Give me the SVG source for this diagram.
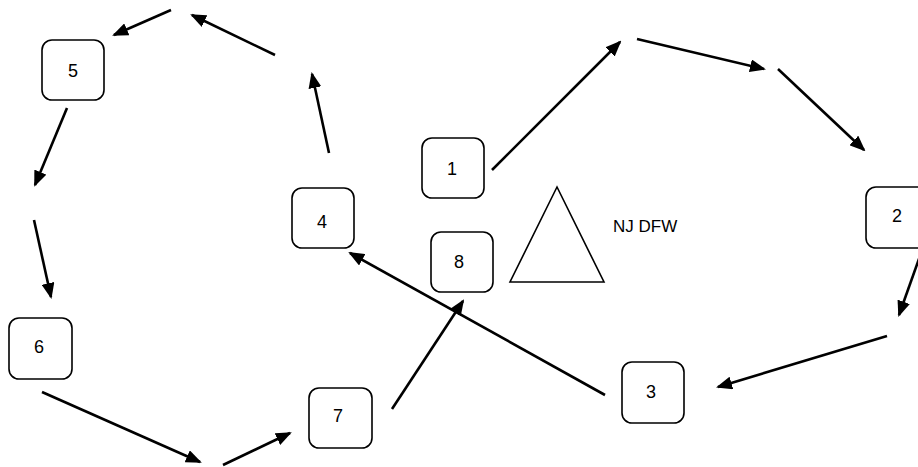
<svg xmlns="http://www.w3.org/2000/svg" width="918" height="467" viewBox="0 0 918 467">
<style>
.box{fill:#fff;stroke:#000;stroke-width:1.6}
.lbl{font-family:"Liberation Sans","Open Sans",sans-serif;font-size:18px;fill:#000;text-anchor:middle}
.edge{stroke:#000;stroke-width:2.6;fill:none;marker-end:url(#ah)}
</style>
<defs>
<marker id="ah" markerUnits="userSpaceOnUse" markerWidth="16" markerHeight="13" refX="14" refY="6.5" orient="auto">
<path d="M0,0 L16,6.5 L0,13 z" fill="#000"/>
</marker>
</defs>
<rect width="918" height="467" fill="#fff"/>
<g id="connectors">
<line class="edge" x1="171" y1="10" x2="114" y2="35"/>
<line class="edge" x1="275" y1="55" x2="192" y2="15"/>
<line class="edge" x1="329" y1="153" x2="312" y2="74"/>
<line class="edge" x1="67" y1="108" x2="35" y2="185"/>
<line class="edge" x1="34" y1="220" x2="51" y2="297"/>
<line class="edge" x1="42" y1="392" x2="200" y2="462"/>
<line class="edge" x1="223" y1="465" x2="290" y2="433"/>
<line class="edge" x1="392" y1="409" x2="463" y2="301"/>
<line class="edge" x1="605" y1="395" x2="350" y2="253"/>
<line class="edge" x1="492" y1="170" x2="620" y2="42"/>
<line class="edge" x1="637" y1="39" x2="764" y2="69"/>
<line class="edge" x1="778" y1="69" x2="864" y2="150"/>
<line class="edge" x1="920" y1="256" x2="899" y2="315"/>
<line class="edge" x1="887" y1="336" x2="718" y2="387"/>
</g>
<g id="node1"><rect class="box" x="422" y="138" width="62" height="60" rx="10"/><text class="lbl" x="452" y="175">1</text></g>
<g id="node2"><rect class="box" x="866" y="187" width="62" height="61" rx="10"/><text class="lbl" x="897" y="222">2</text></g>
<g id="node3"><rect class="box" x="622" y="362" width="62" height="61" rx="10"/><text class="lbl" x="651" y="398">3</text></g>
<g id="node4"><rect class="box" x="292" y="188" width="62" height="60" rx="10"/><text class="lbl" x="322" y="228">4</text></g>
<g id="node5"><rect class="box" x="42" y="40" width="62" height="60" rx="10"/><text class="lbl" x="73" y="77">5</text></g>
<g id="node6"><rect class="box" x="9" y="318" width="63" height="61" rx="10"/><text class="lbl" x="39" y="353">6</text></g>
<g id="node7"><rect class="box" x="309" y="388" width="63" height="60" rx="10"/><text class="lbl" x="338" y="422">7</text></g>
<g id="node8"><rect class="box" x="431" y="232" width="62" height="60" rx="10"/><text class="lbl" x="459" y="268">8</text></g>
<g id="triangle"><polygon points="557,187 510,282 604,282" fill="#fff" stroke="#000" stroke-width="1.6"/></g>
<g id="legend"><text font-family="'Liberation Sans','Open Sans',sans-serif" font-size="17" x="613" y="232">NJ DFW</text></g>
</svg>
